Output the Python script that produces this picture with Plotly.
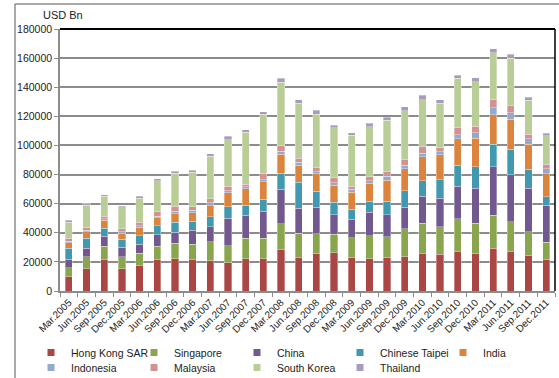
import plotly.graph_objects as go

categories = ["Mar.2005", "Jun.2005", "Sep.2005", "Dec.2005",
              "Mar.2006", "Jun.2006", "Sep.2006", "Dec.2006",
              "Mar.2007", "Jun.2007", "Sep.2007", "Dec.2007",
              "Mar.2008", "Jun.2008", "Sep.2008", "Dec.2008",
              "Mar.2009", "Jun.2009", "Sep.2009", "Dec.2009",
              "Mar.2010", "Jun.2010", "Sep.2010", "Dec.2010",
              "Mar.2011", "Jun.2011", "Sep.2011", "Dec.2011"]

hong_kong = [9700, 15400, 21600, 15400, 17500, 21600, 22300, 21600, 20900, 19500, 22300, 22300, 28300, 23000,
             25800, 26200, 22900, 22300, 23000, 23700, 26000, 25100, 27100, 26000, 29500, 27300, 24600, 21800]
singapore = [6200, 8000, 9200, 8000, 8500, 9200, 10600, 10400, 12900, 11500, 13800, 13800, 17900, 16800,
             13700, 12900, 13800, 15600, 14400, 18900, 20700, 19000, 22600, 20400, 22700, 20300, 16100, 11800]
china = [5900, 6000, 6700, 6500, 6200, 7800, 7300, 9600, 10300, 18900, 15900, 18600, 23700, 17200,
         18000, 13400, 12500, 16100, 15000, 14800, 18400, 19600, 22300, 24200, 33100, 32400, 29900, 25300]
chinese_taipei = [7600, 6700, 5700, 5700, 5700, 6200, 6900, 6200, 6900, 8000, 6900, 8500, 11000, 17700,
                  11000, 8400, 6900, 7600, 9200, 11600, 10500, 12600, 14400, 14900, 15400, 17500, 13100, 5900]
india = [3700, 4600, 5300, 3900, 5800, 5500, 6000, 6000, 7600, 9500, 11200, 11700, 13100, 11700,
         12200, 11600, 11900, 12400, 14500, 14900, 16600, 17300, 18200, 19600, 20400, 20400, 17200, 15700]
indonesia = [1000, 1100, 1200, 1200, 1100, 1200, 1600, 1600, 1900, 1600, 1600, 1600, 2100, 1900,
             1400, 1900, 1900, 1600, 2600, 2600, 2500, 2000, 2800, 3600, 4900, 4600, 3700, 3600]
malaysia = [2000, 1900, 1600, 2100, 2300, 3000, 3700, 2500, 2900, 3000, 1600, 4400, 3900, 3000,
            2700, 3500, 1800, 3000, 3400, 3900, 4600, 3300, 5200, 4600, 5300, 4900, 3000, 3000]
south_korea = [11300, 15200, 13800, 14400, 16600, 21400, 22500, 23700, 29200, 31900, 35700, 40500, 43400, 37700,
               36600, 34300, 35400, 34300, 35100, 33300, 32200, 30100, 33400, 30400, 32400, 32600, 23400, 19600]
thailand = [1300, 1300, 1100, 1200, 1400, 1300, 1400, 1400, 1700, 2300, 1800, 1800, 2600, 2300,
            2700, 1600, 1600, 2500, 2300, 3000, 3000, 2300, 2300, 2700, 2700, 2800, 2100, 1600]

series = [
    ("Hong Kong SAR", hong_kong, "#AA4643"),
    ("Singapore", singapore, "#89A54E"),
    ("China", china, "#71588F"),
    ("Chinese Taipei", chinese_taipei, "#4198AF"),
    ("India", india, "#DB843D"),
    ("Indonesia", indonesia, "#93A9CF"),
    ("Malaysia", malaysia, "#D19392"),
    ("South Korea", south_korea, "#B9CD96"),
    ("Thailand", thailand, "#A99BBD"),
]

y_ticks = list(range(0, 180001, 20000))

W, H = 559, 378
ML, MR, MT, MB = 60, 4, 29, 87
PW, PH = W - ML - MR, H - MT - MB


def px_x(p):
    return (p - ML) / PW


def px_y(p):
    return (H - MB - p) / PH


fig = go.Figure()
for name, vals, color in series:
    fig.add_trace(go.Bar(
        x=categories, y=vals, name=name, showlegend=False,
        marker=dict(color=color, line=dict(color="rgba(255,255,255,0.55)", width=0.6)),
    ))
# legend entries (two rows, like the reference) with small square swatches
for i, (name, vals, color) in enumerate(series):
    fig.add_trace(go.Scatter(
        x=[None], y=[None], name=name, mode="markers",
        marker=dict(symbol="square", size=7, color=color),
        showlegend=True, hoverinfo="skip",
        legend="legend" if i < 5 else "legend2",
    ))

font_family = "Liberation Sans, Arial, sans-serif"

legend_common = dict(
    orientation="h",
    xanchor="left", yanchor="top",
    entrywidth=58, entrywidthmode="pixels",
    traceorder="normal",
    font=dict(size=10.5, color="#222"),
    bgcolor="rgba(0,0,0,0)",
    itemclick=False, itemdoubleclick=False,
)

fig.update_layout(
    width=W, height=H,
    margin=dict(l=ML, r=MR, t=MT, b=MB, pad=0, autoexpand=False),
    barmode="stack",
    bargap=0.59,
    paper_bgcolor="white",
    plot_bgcolor="white",
    font=dict(family=font_family, size=11, color="#222"),
    showlegend=True,
    legend=dict(x=px_x(31), y=px_y(338), **legend_common),
    legend2=dict(x=px_x(31), y=px_y(353), **legend_common),
    xaxis=dict(
        type="category",
        categoryorder="array", categoryarray=categories,
        tickangle=-45,
        tickfont=dict(size=10, color="#222"),
        showline=True, linecolor="#8c8c8c", linewidth=1.5,
        ticks="outside", tickson="boundaries", ticklen=4, tickcolor="#8c8c8c",
        showgrid=False,
        automargin=False,
        fixedrange=True,
    ),
    yaxis=dict(
        range=[0, 180000],
        tickvals=y_ticks,
        tickformat="d",
        tickfont=dict(size=10.5, color="#222"),
        showline=True, linecolor="#8c8c8c", linewidth=1.5,
        ticks="outside", ticklen=4, tickcolor="#8c8c8c",
        showgrid=True, gridcolor="#8c8c8c", gridwidth=1.5,
        zeroline=False,
        automargin=False,
        fixedrange=True,
    ),
    annotations=[
        dict(text="USD Bn", x=px_x(63), y=px_y(15), xref="paper", yref="paper",
             xanchor="center", yanchor="middle", showarrow=False,
             font=dict(size=11, color="#222")),
    ],
    shapes=[
        dict(type="line", xref="paper", yref="paper", x0=0, x1=1, y0=1, y1=1,
             line=dict(color="black", width=2)),
        dict(type="line", xref="paper", yref="paper", x0=1, x1=1, y0=0, y1=1,
             line=dict(color="black", width=1.5)),
        dict(type="line", xref="paper", yref="paper", x0=px_x(15), x1=px_x(W), y0=px_y(4), y1=px_y(4),
             line=dict(color="#8c8c8c", width=1.5)),
        dict(type="line", xref="paper", yref="paper", x0=px_x(15), x1=px_x(15), y0=px_y(4), y1=px_y(H),
             line=dict(color="#8c8c8c", width=1.5)),
    ],
)

fig.write_html("out.html")
